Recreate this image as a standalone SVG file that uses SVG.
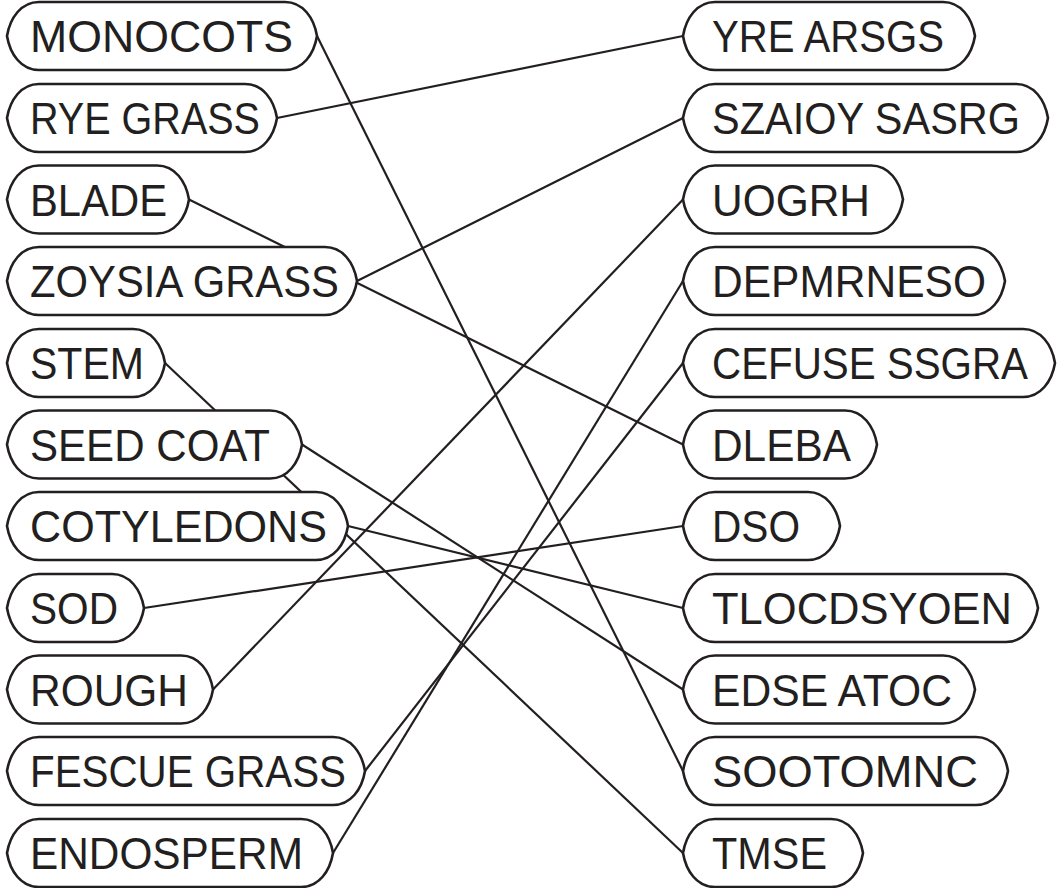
<svg xmlns="http://www.w3.org/2000/svg" width="1063" height="888" viewBox="0 0 1063 888">
<style>
.box{fill:#fff;stroke:#231f20;stroke-width:2.6}
.lbl{font-family:"Liberation Sans",Arial,sans-serif;font-size:45px;fill:#231f20}
.con line{stroke:#231f20;stroke-width:2.2}
</style>
<rect width="1063" height="888" fill="#fff"/>
<g id="connectors" class="con">
<line x1="317" y1="36" x2="683" y2="771"/>
<line x1="277" y1="118" x2="683" y2="36"/>
<line x1="189" y1="199.5" x2="683" y2="444.5"/>
<line x1="357" y1="281" x2="683" y2="118"/>
<line x1="165" y1="363" x2="683" y2="853"/>
<line x1="302" y1="444.5" x2="683" y2="689.5"/>
<line x1="348" y1="526" x2="683" y2="608"/>
<line x1="144" y1="608" x2="683" y2="526"/>
<line x1="213" y1="689.5" x2="683" y2="199.5"/>
<line x1="365" y1="771" x2="683" y2="363"/>
<line x1="333" y1="853" x2="683" y2="281"/>
</g>
<g id="n-monocots"><path class="box" d="M39 2H285C303 2 314 18 317 36C314 54 303 70 285 70H39C21 70 10 54 7 36C10 18 21 2 39 2Z"/><text class="lbl" x="30" y="52" textLength="263" lengthAdjust="spacingAndGlyphs">MONOCOTS</text></g>
<g id="n-ryegrass"><path class="box" d="M39 84H245C263 84 274 100 277 118C274 136 263 152 245 152H39C21 152 10 136 7 118C10 100 21 84 39 84Z"/><text class="lbl" x="30" y="134" textLength="230" lengthAdjust="spacingAndGlyphs">RYE GRASS</text></g>
<g id="n-blade"><path class="box" d="M39 165.5H157C175 165.5 186 181.5 189 199.5C186 217.5 175 233.5 157 233.5H39C21 233.5 10 217.5 7 199.5C10 181.5 21 165.5 39 165.5Z"/><text class="lbl" x="30" y="215.5" textLength="137" lengthAdjust="spacingAndGlyphs">BLADE</text></g>
<g id="n-zoysia"><path class="box" d="M39 247H325C343 247 354 263 357 281C354 299 343 315 325 315H39C21 315 10 299 7 281C10 263 21 247 39 247Z"/><text class="lbl" x="30" y="297" textLength="309" lengthAdjust="spacingAndGlyphs">ZOYSIA GRASS</text></g>
<g id="n-stem"><path class="box" d="M39 329H133C151 329 162 345 165 363C162 381 151 397 133 397H39C21 397 10 381 7 363C10 345 21 329 39 329Z"/><text class="lbl" x="30" y="379" textLength="114" lengthAdjust="spacingAndGlyphs">STEM</text></g>
<g id="n-seedcoat"><path class="box" d="M39 410.5H270C288 410.5 299 426.5 302 444.5C299 462.5 288 478.5 270 478.5H39C21 478.5 10 462.5 7 444.5C10 426.5 21 410.5 39 410.5Z"/><text class="lbl" x="30" y="460.5" textLength="240" lengthAdjust="spacingAndGlyphs">SEED COAT</text></g>
<g id="n-cotyledons"><path class="box" d="M39 492H316C334 492 345 508 348 526C345 544 334 560 316 560H39C21 560 10 544 7 526C10 508 21 492 39 492Z"/><text class="lbl" x="30" y="542" textLength="297" lengthAdjust="spacingAndGlyphs">COTYLEDONS</text></g>
<g id="n-sod"><path class="box" d="M39 574H112C130 574 141 590 144 608C141 626 130 642 112 642H39C21 642 10 626 7 608C10 590 21 574 39 574Z"/><text class="lbl" x="30" y="624" textLength="88" lengthAdjust="spacingAndGlyphs">SOD</text></g>
<g id="n-rough"><path class="box" d="M39 655.5H181C199 655.5 210 671.5 213 689.5C210 707.5 199 723.5 181 723.5H39C21 723.5 10 707.5 7 689.5C10 671.5 21 655.5 39 655.5Z"/><text class="lbl" x="30" y="705.5" textLength="158" lengthAdjust="spacingAndGlyphs">ROUGH</text></g>
<g id="n-fescue"><path class="box" d="M39 737H333C351 737 362 753 365 771C362 789 351 805 333 805H39C21 805 10 789 7 771C10 753 21 737 39 737Z"/><text class="lbl" x="30" y="787" textLength="316" lengthAdjust="spacingAndGlyphs">FESCUE GRASS</text></g>
<g id="n-endosperm"><path class="box" d="M39 819H301C319 819 330 835 333 853C330 871 319 887 301 887H39C21 887 10 871 7 853C10 835 21 819 39 819Z"/><text class="lbl" x="30" y="869" textLength="273" lengthAdjust="spacingAndGlyphs">ENDOSPERM</text></g>
<g id="n-yrearsgs"><path class="box" d="M715 2H943C961 2 972 18 975 36C972 54 961 70 943 70H715C697 70 686 54 683 36C686 18 697 2 715 2Z"/><text class="lbl" x="712" y="52" textLength="232" lengthAdjust="spacingAndGlyphs">YRE ARSGS</text></g>
<g id="n-szaioy"><path class="box" d="M715 84H1016C1034 84 1045 100 1048 118C1045 136 1034 152 1016 152H715C697 152 686 136 683 118C686 100 697 84 715 84Z"/><text class="lbl" x="712" y="134" textLength="308" lengthAdjust="spacingAndGlyphs">SZAIOY SASRG</text></g>
<g id="n-uogrh"><path class="box" d="M715 165.5H871C889 165.5 900 181.5 903 199.5C900 217.5 889 233.5 871 233.5H715C697 233.5 686 217.5 683 199.5C686 181.5 697 165.5 715 165.5Z"/><text class="lbl" x="712" y="215.5" textLength="158" lengthAdjust="spacingAndGlyphs">UOGRH</text></g>
<g id="n-depmrneso"><path class="box" d="M715 247H973C991 247 1002 263 1005 281C1002 299 991 315 973 315H715C697 315 686 299 683 281C686 263 697 247 715 247Z"/><text class="lbl" x="712" y="297" textLength="274" lengthAdjust="spacingAndGlyphs">DEPMRNESO</text></g>
<g id="n-cefuse"><path class="box" d="M715 329H1023C1041 329 1052 345 1055 363C1052 381 1041 397 1023 397H715C697 397 686 381 683 363C686 345 697 329 715 329Z"/><text class="lbl" x="712" y="379" textLength="316" lengthAdjust="spacingAndGlyphs">CEFUSE SSGRA</text></g>
<g id="n-dleba"><path class="box" d="M715 410.5H845C863 410.5 874 426.5 877 444.5C874 462.5 863 478.5 845 478.5H715C697 478.5 686 462.5 683 444.5C686 426.5 697 410.5 715 410.5Z"/><text class="lbl" x="712" y="460.5" textLength="139" lengthAdjust="spacingAndGlyphs">DLEBA</text></g>
<g id="n-dso"><path class="box" d="M715 492H808C826 492 837 508 840 526C837 544 826 560 808 560H715C697 560 686 544 683 526C686 508 697 492 715 492Z"/><text class="lbl" x="712" y="542" textLength="88" lengthAdjust="spacingAndGlyphs">DSO</text></g>
<g id="n-tlocdsyoen"><path class="box" d="M715 574H1006C1024 574 1035 590 1038 608C1035 626 1024 642 1006 642H715C697 642 686 626 683 608C686 590 697 574 715 574Z"/><text class="lbl" x="712" y="624" textLength="300" lengthAdjust="spacingAndGlyphs">TLOCDSYOEN</text></g>
<g id="n-edseatoc"><path class="box" d="M715 655.5H943C961 655.5 972 671.5 975 689.5C972 707.5 961 723.5 943 723.5H715C697 723.5 686 707.5 683 689.5C686 671.5 697 655.5 715 655.5Z"/><text class="lbl" x="712" y="705.5" textLength="240" lengthAdjust="spacingAndGlyphs">EDSE ATOC</text></g>
<g id="n-sootomnc"><path class="box" d="M715 737H976C994 737 1005 753 1008 771C1005 789 994 805 976 805H715C697 805 686 789 683 771C686 753 697 737 715 737Z"/><text class="lbl" x="712" y="787" textLength="266" lengthAdjust="spacingAndGlyphs">SOOTOMNC</text></g>
<g id="n-tmse"><path class="box" d="M715 819H831C849 819 860 835 863 853C860 871 849 887 831 887H715C697 887 686 871 683 853C686 835 697 819 715 819Z"/><text class="lbl" x="712" y="869" textLength="115" lengthAdjust="spacingAndGlyphs">TMSE</text></g>
</svg>
